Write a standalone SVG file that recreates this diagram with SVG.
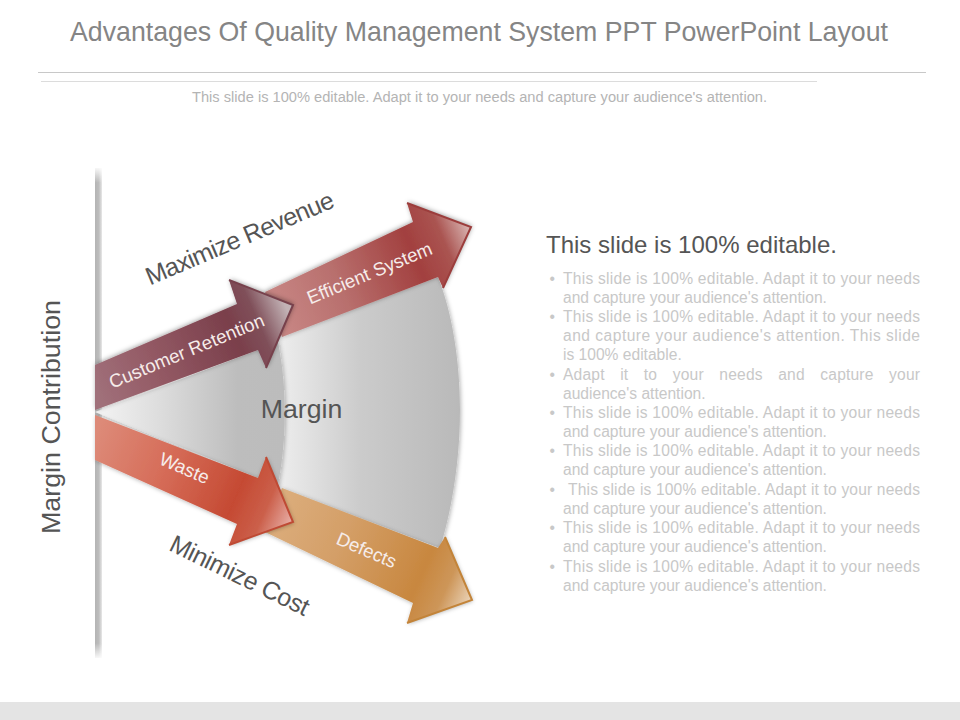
<svg xmlns="http://www.w3.org/2000/svg" width="960" height="720" viewBox="0 0 960 720">
<style>
text{font-family:"Liberation Sans",Arial,sans-serif}
.b{font-size:15.6px;fill:#c8c8c8}
.l{font-size:18.7px;fill:#f6ecea;text-anchor:middle}
.h{font-size:25px;fill:#555;text-anchor:middle}
.e{fill:none;stroke-width:2;stroke-linejoin:miter}
</style>
<defs>
<filter id="s" x="-20%" y="-20%" width="140%" height="140%"><feDropShadow dx="1" dy="-1" stdDeviation="2.5" flood-color="#000" flood-opacity=".4"/></filter>
<filter id="s2" x="-20%" y="-20%" width="140%" height="140%"><feDropShadow dx="1" dy="1" stdDeviation="2" flood-color="#000" flood-opacity=".3"/></filter>
<linearGradient id="gL" gradientUnits="userSpaceOnUse" x1="95" y1="0" x2="285" y2="0"><stop offset="0" stop-color="#f4f4f4"/><stop offset=".35" stop-color="#dcdcdc"/><stop offset=".75" stop-color="#bdbdbd"/><stop offset="1" stop-color="#bcbcbc"/></linearGradient>
<linearGradient id="gR" gradientUnits="userSpaceOnUse" x1="280" y1="0" x2="460" y2="0"><stop offset="0" stop-color="#ededed"/><stop offset=".45" stop-color="#cbcbcb"/><stop offset="1" stop-color="#b9b9b9"/></linearGradient>
<linearGradient id="gBar" x1="0" y1="0" x2="1" y2="0"><stop offset="0" stop-color="#b4b4b4"/><stop offset=".55" stop-color="#bdbdbd"/><stop offset="1" stop-color="#e8e8e8"/></linearGradient>
<linearGradient id="gBarF" x1="0" y1="0" x2="0" y2="1"><stop offset="0" stop-color="#fff" stop-opacity=".9"/><stop offset=".03" stop-color="#fff" stop-opacity="0"/><stop offset=".97" stop-color="#fff" stop-opacity="0"/><stop offset="1" stop-color="#fff" stop-opacity=".9"/></linearGradient>
<linearGradient id="gC" gradientUnits="userSpaceOnUse" x1="95" y1="388" x2="285" y2="305"><stop offset="0" stop-color="#a0707a"/><stop offset=".3" stop-color="#945a65"/><stop offset=".72" stop-color="#7a3f4b"/><stop offset=".85" stop-color="#80505a"/><stop offset="1" stop-color="#c2b2b5"/></linearGradient>
<linearGradient id="gE" gradientUnits="userSpaceOnUse" x1="270" y1="315" x2="470" y2="230"><stop offset="0" stop-color="#c98886"/><stop offset=".35" stop-color="#b86f6d"/><stop offset=".72" stop-color="#a2403f"/><stop offset=".87" stop-color="#aa5451"/><stop offset="1" stop-color="#d8b3b0"/></linearGradient>
<linearGradient id="gW" gradientUnits="userSpaceOnUse" x1="95" y1="437" x2="290" y2="522"><stop offset="0" stop-color="#dd8a78"/><stop offset=".35" stop-color="#d66d59"/><stop offset=".72" stop-color="#c54a33"/><stop offset=".87" stop-color="#cb5f4a"/><stop offset="1" stop-color="#e6a9a0"/></linearGradient>
<linearGradient id="gD" gradientUnits="userSpaceOnUse" x1="270" y1="510" x2="470" y2="600"><stop offset="0" stop-color="#dcae7d"/><stop offset=".35" stop-color="#d49f68"/><stop offset=".75" stop-color="#c8873f"/><stop offset=".88" stop-color="#cd9659"/><stop offset="1" stop-color="#e9d0b3"/></linearGradient>
</defs>
<rect width="960" height="720" fill="#fff"/>
<rect y="702" width="960" height="18" fill="#e4e4e4"/>
<text x="479" y="41" font-size="27.500" fill="#858585" text-anchor="middle" textLength="818" lengthAdjust="spacingAndGlyphs">Advantages Of Quality Management System PPT PowerPoint Layout</text>
<path d="M38 72.500H926" stroke="#c8c8c8" fill="none"/>
<path d="M41 81.500H817" stroke="#dcdcdc" fill="none"/>
<text x="479.500" y="102" font-size="14" fill="#b4b4b4" text-anchor="middle" textLength="575" lengthAdjust="spacingAndGlyphs">This slide is 100% editable. Adapt it to your needs and capture your audience's attention.</text>
<g id="axis">
<rect x="95" y="168" width="7" height="490" fill="url(#gBar)"/>
<rect x="95" y="168" width="7" height="490" fill="url(#gBarF)"/>
<text transform="translate(60 417) rotate(-90)" font-size="26" fill="#555" text-anchor="middle" textLength="234" lengthAdjust="spacingAndGlyphs">Margin Contribution</text>
</g>
<g id="margin">
<path d="M280 337L438 277C452 312 460 360 460 410C460 460 452 510 440 548L280 488C286 440 287 385 280 337Z" fill="url(#gR)" filter="url(#s2)"/>
<path d="M95 412L258 350L278 342C287 385 287 440 278 485L258 478Z" fill="url(#gL)" filter="url(#s2)"/>
<text x="301.500" y="418" font-size="26.700" fill="#555" text-anchor="middle">Margin</text>
</g>
<g id="connectors">
<g id="defects">
<path d="M265 532L282 488L438 548L445 537L472 600L407 623L413 603Z" fill="url(#gD)" filter="url(#s2)"/>
<path class="e" d="M445 537L472 600L407 623" stroke="#c38439"/>
<text class="l" transform="translate(364 556) rotate(23.300)">Defects</text>
</g>
<g id="waste">
<path d="M95 415L258 478L266 457L293 522L229 545L237 524L95 460Z" fill="url(#gW)" filter="url(#s2)"/>
<path class="e" d="M266 457L293 522L229 545" stroke="#bf4a34"/>
<text class="l" transform="translate(182 474) rotate(23.300)">Waste</text>
</g>
<g id="efficient">
<path d="M265 292L413 222L407 203L471 227L443 288L438 277L282 337Z" fill="url(#gE)" filter="url(#s)"/>
<path class="e" d="M407 203L471 227L443 288" stroke="#9c3d3c"/>
<text class="l" transform="translate(372 279) rotate(-22.500)">Efficient System</text>
</g>
<g id="customer">
<path d="M95 365L237 304L229 280L293 305L266 368L258 350L95 410Z" fill="url(#gC)" filter="url(#s)"/>
<path class="e" d="M229 280L293 305L266 368" stroke="#77414c"/>
<text class="l" transform="translate(189 357) rotate(-22.500)">Customer Retention</text>
</g>
</g>
<text class="h" transform="translate(243 246) rotate(-23)" textLength="202" lengthAdjust="spacing">Maximize Revenue</text>
<text class="h" transform="translate(236 583) rotate(26)" textLength="152" lengthAdjust="spacing">Minimize Cost</text>
<g id="details">
<text x="546" y="253" font-size="23.400" fill="#555" textLength="291" lengthAdjust="spacingAndGlyphs">This slide is 100% editable.</text>
<text class="b">
<tspan x="549.500" y="284">•</tspan><tspan x="549.500" y="322">•</tspan><tspan x="549.500" y="380">•</tspan><tspan x="549.500" y="418">•</tspan><tspan x="549.500" y="456">•</tspan><tspan x="549.500" y="495">•</tspan><tspan x="549.500" y="533">•</tspan><tspan x="549.500" y="572">•</tspan>
</text>
<text class="b" x="563" y="284" textLength="357">This slide is 100% editable. Adapt it to your needs</text>
<text class="b" x="563" y="303">and capture your audience's attention.</text>
<text class="b" x="563" y="322" textLength="357">This slide is 100% editable. Adapt it to your needs</text>
<text class="b" x="563" y="341" textLength="357" lengthAdjust="spacing">and capture your audience's attention. This slide</text>
<text class="b" x="563" y="360">is 100% editable.</text>
<text class="b" x="563" y="380" textLength="357" lengthAdjust="spacing" word-spacing="11">Adapt it to your needs and capture your</text>
<text class="b" x="563" y="399">audience's attention.</text>
<text class="b" x="563" y="418" textLength="357">This slide is 100% editable. Adapt it to your needs</text>
<text class="b" x="563" y="437">and capture your audience's attention.</text>
<text class="b" x="563" y="456" textLength="357">This slide is 100% editable. Adapt it to your needs</text>
<text class="b" x="563" y="475">and capture your audience's attention.</text>
<text class="b" x="568" y="495" textLength="352">This slide is 100% editable. Adapt it to your needs</text>
<text class="b" x="563" y="514">and capture your audience's attention.</text>
<text class="b" x="563" y="533" textLength="357">This slide is 100% editable. Adapt it to your needs</text>
<text class="b" x="563" y="552">and capture your audience's attention.</text>
<text class="b" x="563" y="572" textLength="357">This slide is 100% editable. Adapt it to your needs</text>
<text class="b" x="563" y="591">and capture your audience's attention.</text>
</g>
</svg>
